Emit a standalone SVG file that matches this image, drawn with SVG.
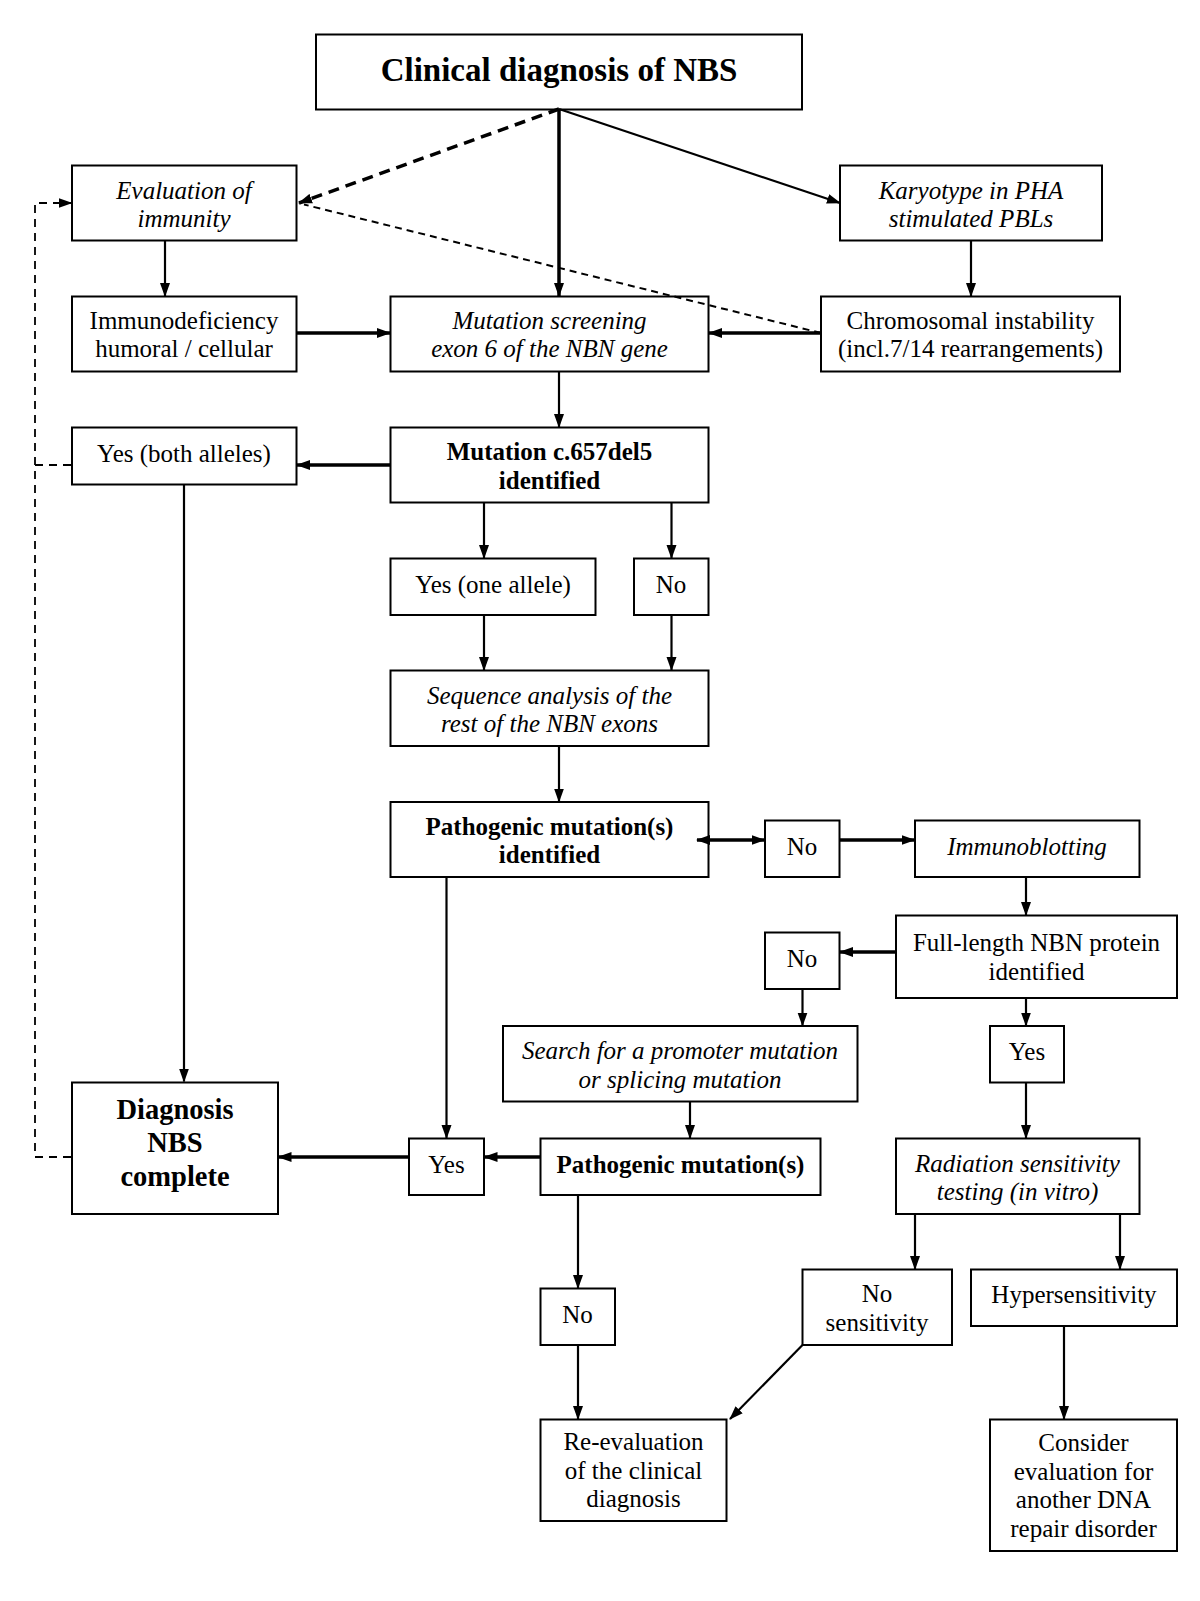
<svg xmlns="http://www.w3.org/2000/svg" width="1200" height="1601" viewBox="0 0 1200 1601">
<defs>
<style>
.box{fill:#fff;stroke:#000;stroke-width:2}
text{font-family:"Liberation Serif","Times New Roman",serif;font-size:25px;fill:#000;text-anchor:middle}
.i{font-style:italic}
.b{font-weight:bold}
.c{fill:none;stroke:#000;stroke-width:2.2}
.t{stroke-width:3.5}
.d1{stroke-width:3.5;stroke-dasharray:11 7}
.d2{stroke-width:2;stroke-dasharray:7 5}
.d3{stroke-width:1.8;stroke-dasharray:8 6}
</style>
<marker id="a" markerWidth="14" markerHeight="11" refX="13" refY="5.5" orient="auto" markerUnits="userSpaceOnUse"><path d="M0,0.5 L14,5.5 L0,10.5 Z" fill="#000"/></marker>
<marker id="as" markerWidth="14" markerHeight="11" refX="13" refY="5.5" orient="auto-start-reverse" markerUnits="userSpaceOnUse"><path d="M0,0.5 L14,5.5 L0,10.5 Z" fill="#000"/></marker>
</defs>
<rect width="1200" height="1601" fill="#fff"/>

<g id="n-clinical"><rect class="box" x="316" y="34.5" width="486" height="75"/><text class="b" x="559" y="81" style="font-size:33px">Clinical diagnosis of NBS</text></g>
<g id="n-evaluation"><rect class="box" x="72" y="165.5" width="224.5" height="75"/><text class="i" x="184" y="198.5">Evaluation of</text><text class="i" x="184" y="227">immunity</text></g>
<g id="n-karyotype"><rect class="box" x="840" y="165.5" width="262" height="75"/><text class="i" x="971" y="198.5">Karyotype in PHA</text><text class="i" x="971" y="227">stimulated PBLs</text></g>
<g id="n-immunodef"><rect class="box" x="72" y="296.5" width="224.5" height="75"/><text x="184" y="328.5">Immunodeficiency</text><text x="184" y="357">humoral / cellular</text></g>
<g id="n-screening"><rect class="box" x="390.5" y="296.5" width="318" height="75"/><text class="i" x="549.5" y="328.5">Mutation screening</text><text class="i" x="549.5" y="357">exon 6 of the NBN gene</text></g>
<g id="n-chromosomal"><rect class="box" x="821" y="296.5" width="299" height="75"/><text x="970.5" y="328.5">Chromosomal instability</text><text x="970.5" y="357">(incl.7/14 rearrangements)</text></g>
<g id="n-both"><rect class="box" x="72" y="427.5" width="224.5" height="57"/><text x="184" y="461.5">Yes (both alleles)</text></g>
<g id="n-c657"><rect class="box" x="390.5" y="427.5" width="318" height="75"/><text class="b" x="549.5" y="460">Mutation c.657del5</text><text class="b" x="549.5" y="488.5">identified</text></g>
<g id="n-one"><rect class="box" x="390.5" y="558.5" width="205" height="56.5"/><text x="493" y="592.5">Yes (one allele)</text></g>
<g id="n-no1"><rect class="box" x="634" y="558.5" width="74.5" height="56.5"/><text x="671" y="592.5">No</text></g>
<g id="n-sequence"><rect class="box" x="390.5" y="670.5" width="318" height="75.5"/><text class="i" x="549.5" y="703.5">Sequence analysis of the</text><text class="i" x="549.5" y="732">rest of the NBN exons</text></g>
<g id="n-pathid"><rect class="box" x="390.5" y="802" width="318" height="75"/><text class="b" x="549.5" y="834.5">Pathogenic mutation(s)</text><text class="b" x="549.5" y="863">identified</text></g>
<g id="n-no2"><rect class="box" x="765" y="820.5" width="74.5" height="56.5"/><text x="802" y="854.5">No</text></g>
<g id="n-immunoblot"><rect class="box" x="915" y="820.5" width="224.5" height="56.5"/><text class="i" x="1027" y="854.5">Immunoblotting</text></g>
<g id="n-fulllength"><rect class="box" x="896" y="915.5" width="281" height="82.5"/><text x="1036.5" y="951">Full-length NBN protein</text><text x="1036.5" y="979.5">identified</text></g>
<g id="n-no3"><rect class="box" x="765" y="932.5" width="74.5" height="56.5"/><text x="802" y="966.5">No</text></g>
<g id="n-search"><rect class="box" x="503" y="1026" width="354.5" height="75.5"/><text class="i" x="680" y="1059">Search for a promoter mutation</text><text class="i" x="680" y="1087.5">or splicing mutation</text></g>
<g id="n-yes1"><rect class="box" x="990" y="1026" width="74" height="56.5"/><text x="1027" y="1060">Yes</text></g>
<g id="n-diagnosis"><rect class="box" x="72" y="1082.5" width="206" height="131.5"/><text class="b" x="175" y="1118.5" style="font-size:28.5px">Diagnosis</text><text class="b" x="175" y="1152" style="font-size:28.5px">NBS</text><text class="b" x="175" y="1185.5" style="font-size:28.5px">complete</text></g>
<g id="n-yes2"><rect class="box" x="409" y="1138.5" width="75" height="56.5"/><text x="446.5" y="1172.5">Yes</text></g>
<g id="n-path"><rect class="box" x="540.5" y="1138.5" width="280" height="56.5"/><text class="b" x="680.5" y="1172.5">Pathogenic mutation(s)</text></g>
<g id="n-radiation"><rect class="box" x="896" y="1138.5" width="243.5" height="75.5"/><text class="i" x="1017.5" y="1171.5">Radiation sensitivity</text><text class="i" x="1017.5" y="1200">testing (in vitro)</text></g>
<g id="n-no4"><rect class="box" x="540.5" y="1288.5" width="74.5" height="56.5"/><text x="577.5" y="1322.5">No</text></g>
<g id="n-nosens"><rect class="box" x="802.5" y="1269.5" width="149.5" height="75.5"/><text x="877" y="1302">No</text><text x="877" y="1330.5">sensitivity</text></g>
<g id="n-hyper"><rect class="box" x="971" y="1269.5" width="206" height="56.5"/><text x="1074" y="1302.5">Hypersensitivity</text></g>
<g id="n-reeval"><rect class="box" x="540.5" y="1419.5" width="186" height="101.5"/><text x="633.5" y="1450">Re-evaluation</text><text x="633.5" y="1478.5">of the clinical</text><text x="633.5" y="1507">diagnosis</text></g>
<g id="n-consider"><rect class="box" x="990" y="1419.5" width="187" height="131.5"/><text x="1083.5" y="1451">Consider</text><text x="1083.5" y="1479.5">evaluation for</text><text x="1083.5" y="1508">another DNA</text><text x="1083.5" y="1536.5">repair disorder</text></g>

<g id="connectors">
<line class="c d1" x1="559" y1="109" x2="299" y2="203" marker-end="url(#a)"/>
<line class="c d2" x1="821" y1="333" x2="304" y2="204.5"/>
<line class="c t" x1="559" y1="110" x2="559" y2="296" marker-end="url(#a)"/>
<line class="c" x1="559" y1="109" x2="840" y2="203" marker-end="url(#a)"/>
<line class="c" x1="165" y1="241" x2="165" y2="296" marker-end="url(#a)"/>
<line class="c" x1="971" y1="241" x2="971" y2="296" marker-end="url(#a)"/>
<line class="c t" x1="297" y1="333" x2="390" y2="333" marker-end="url(#a)"/>
<line class="c t" x1="820" y1="333" x2="709" y2="333" marker-end="url(#a)"/>
<line class="c" x1="559" y1="372" x2="559" y2="427" marker-end="url(#a)"/>
<line class="c t" x1="390" y1="465" x2="297" y2="465" marker-end="url(#a)"/>
<line class="c" x1="484" y1="503" x2="484" y2="558" marker-end="url(#a)"/>
<line class="c" x1="671.5" y1="503" x2="671.5" y2="558" marker-end="url(#a)"/>
<line class="c" x1="484" y1="615.5" x2="484" y2="670" marker-end="url(#a)"/>
<line class="c" x1="671.5" y1="615.5" x2="671.5" y2="670" marker-end="url(#a)"/>
<line class="c" x1="559" y1="746.5" x2="559" y2="801.5" marker-end="url(#a)"/>
<line class="c t" x1="697" y1="840" x2="764.5" y2="840" marker-start="url(#as)" marker-end="url(#a)"/>
<line class="c t" x1="840" y1="840" x2="914.5" y2="840" marker-end="url(#a)"/>
<line class="c" x1="1026" y1="877.5" x2="1026" y2="915" marker-end="url(#a)"/>
<line class="c t" x1="895" y1="952" x2="840" y2="952" marker-end="url(#a)"/>
<line class="c" x1="802.5" y1="989.5" x2="802.5" y2="1025.5" marker-end="url(#a)"/>
<line class="c" x1="1026" y1="998.5" x2="1026" y2="1025.5" marker-end="url(#a)"/>
<line class="c" x1="690" y1="1102" x2="690" y2="1138" marker-end="url(#a)"/>
<line class="c" x1="1026" y1="1083" x2="1026" y2="1138" marker-end="url(#a)"/>
<line class="c" x1="184" y1="485" x2="184" y2="1081.5" marker-end="url(#a)"/>
<line class="c" x1="446.5" y1="877.5" x2="446.5" y2="1138" marker-end="url(#a)"/>
<line class="c t" x1="540" y1="1157" x2="484.5" y2="1157" marker-end="url(#a)"/>
<line class="c t" x1="408.5" y1="1157" x2="278.5" y2="1157" marker-end="url(#a)"/>
<line class="c" x1="578" y1="1195.5" x2="578" y2="1288" marker-end="url(#a)"/>
<line class="c" x1="578" y1="1345.5" x2="578" y2="1419" marker-end="url(#a)"/>
<line class="c" x1="915" y1="1214.5" x2="915" y2="1269" marker-end="url(#a)"/>
<line class="c" x1="1120" y1="1214.5" x2="1120" y2="1269" marker-end="url(#a)"/>
<line class="c" x1="802.5" y1="1345" x2="730" y2="1419" marker-end="url(#a)"/>
<line class="c" x1="1064" y1="1327" x2="1064" y2="1419" marker-end="url(#a)"/>
<polyline class="c d3" points="71,1157 35,1157 35,203 71.5,203" marker-end="url(#a)"/>
<line class="c d3" x1="71" y1="465" x2="35" y2="465"/>
</g>
</svg>
